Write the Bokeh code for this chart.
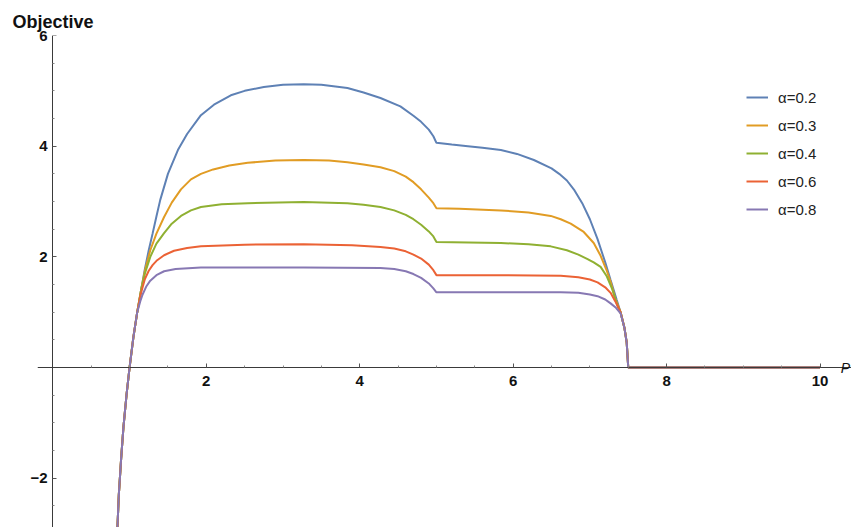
import numpy as np
from bokeh.plotting import figure
from bokeh.models import (Range1d, FixedTicker, Label, Legend, LegendItem,
                          CustomJSTickFormatter, LinearAxis)
from bokeh.embed import file_html
from bokeh.resources import INLINE

# ---------------- data ----------------
series_labels = ["α=0.2", "α=0.3", "α=0.4", "α=0.6", "α=0.8"]
colors = ["#5E81B5", "#E19C24", "#8FB032", "#EB6235", "#8778B3"]

x_a02 = [0.84, 0.86, 0.89, 0.92, 0.96, 1.0, 1.05, 1.1, 1.15, 1.2, 1.25, 1.3, 1.35, 1.4, 1.5,
         1.63, 1.75, 1.93, 2.1, 2.32, 2.5, 2.75, 3.0, 3.27, 3.5, 3.84, 4.05, 4.27, 4.53, 4.7,
         4.8, 4.9, 4.96, 5.0, 5.2, 5.41, 5.6, 5.84, 6.05, 6.27, 6.5, 6.6, 6.7, 6.8, 6.9, 7.0,
         7.1, 7.2, 7.27, 7.35, 7.4, 7.45, 7.48, 7.5, 10.0]
y_a02 = [-2.95, -2.3, -1.65, -1.08, -0.5, 0.0, 0.55, 1.0, 1.4, 1.78, 2.12, 2.42, 2.73, 3.03, 3.5,
         3.93, 4.22, 4.56, 4.75, 4.92, 5.0, 5.07, 5.11, 5.12, 5.11, 5.05, 4.97, 4.87, 4.72, 4.55,
         4.44, 4.3, 4.18, 4.06, 4.03, 4.0, 3.97, 3.93, 3.86, 3.75, 3.6, 3.5, 3.38, 3.2, 2.97, 2.68,
         2.32, 1.9, 1.58, 1.22, 1.0, 0.72, 0.45, 0.0, 0.0]

x_a03 = [0.84, 0.86, 0.89, 0.92, 0.96, 1.0, 1.05, 1.1, 1.15, 1.2, 1.27, 1.35, 1.45, 1.55, 1.67,
         1.8, 1.93, 2.09, 2.3, 2.54, 2.9, 3.27, 3.6, 3.84, 4.05, 4.27, 4.45, 4.6, 4.7, 4.8, 4.9,
         4.96, 5.0, 5.3, 5.84, 6.2, 6.49, 6.62, 6.75, 6.92, 7.05, 7.14, 7.22, 7.27, 7.33, 7.4,
         7.45, 7.48, 7.5, 10.0]
y_a03 = [-2.95, -2.3, -1.65, -1.08, -0.5, 0.0, 0.55, 1.0, 1.4, 1.75, 2.12, 2.42, 2.72, 2.98, 3.22,
         3.4, 3.5, 3.58, 3.65, 3.7, 3.74, 3.75, 3.74, 3.71, 3.67, 3.62, 3.55, 3.45, 3.35, 3.22, 3.07,
         2.97, 2.88, 2.87, 2.84, 2.8, 2.74, 2.68, 2.6, 2.45, 2.25, 2.02, 1.75, 1.55, 1.25, 1.0,
         0.72, 0.45, 0.0, 0.0]

x_a04 = [0.84, 0.86, 0.89, 0.92, 0.96, 1.0, 1.05, 1.1, 1.15, 1.2, 1.27, 1.35, 1.45, 1.55, 1.67,
         1.8, 1.93, 2.2, 2.54, 3.27, 3.84, 4.05, 4.27, 4.45, 4.6, 4.7, 4.8, 4.9, 4.96, 5.0, 5.84,
         6.2, 6.49, 6.7, 6.85, 6.97, 7.05, 7.14, 7.22, 7.29, 7.36, 7.4, 7.45, 7.48, 7.5, 10.0]
y_a04 = [-2.95, -2.3, -1.65, -1.08, -0.5, 0.0, 0.55, 1.0, 1.4, 1.7, 2.0, 2.24, 2.43, 2.6, 2.74,
         2.84, 2.9, 2.95, 2.97, 2.99, 2.97, 2.94, 2.9, 2.84, 2.76, 2.68, 2.58, 2.46, 2.37, 2.27, 2.25,
         2.23, 2.19, 2.12, 2.04, 1.96, 1.9, 1.82, 1.65, 1.42, 1.12, 1.0, 0.72, 0.45, 0.0, 0.0]

x_a06 = [0.84, 0.86, 0.89, 0.92, 0.96, 1.0, 1.05, 1.1, 1.14, 1.17, 1.2, 1.25, 1.3, 1.36, 1.45,
         1.58, 1.75, 1.93, 2.5, 3.27, 3.9, 4.27, 4.45, 4.6, 4.7, 4.8, 4.9, 4.96, 5.0, 5.84, 6.62,
         6.85, 7.0, 7.1, 7.2, 7.27, 7.33, 7.4, 7.45, 7.48, 7.5, 10.0]
y_a06 = [-2.95, -2.3, -1.65, -1.08, -0.5, 0.0, 0.55, 1.0, 1.3, 1.45, 1.6, 1.75, 1.85, 1.94, 2.03,
         2.11, 2.16, 2.19, 2.22, 2.23, 2.21, 2.18, 2.15, 2.1, 2.04, 1.97, 1.86, 1.76, 1.67, 1.67, 1.66,
         1.63, 1.59, 1.54, 1.45, 1.35, 1.2, 1.0, 0.72, 0.45, 0.0, 0.0]

x_a08 = [0.84, 0.86, 0.89, 0.92, 0.96, 1.0, 1.05, 1.1, 1.14, 1.17, 1.22, 1.27, 1.35, 1.45, 1.6,
         1.93, 3.27, 4.27, 4.45, 4.6, 4.7, 4.8, 4.9, 4.96, 5.0, 5.84, 6.62, 6.85, 7.0, 7.1, 7.2,
         7.27, 7.34, 7.4, 7.45, 7.48, 7.5, 10.0]
y_a08 = [-2.95, -2.3, -1.65, -1.08, -0.5, 0.0, 0.55, 1.0, 1.2, 1.32, 1.47, 1.57, 1.67, 1.74, 1.78,
         1.81, 1.81, 1.80, 1.78, 1.74, 1.69, 1.62, 1.52, 1.43, 1.36, 1.36, 1.36, 1.35, 1.32, 1.29,
         1.23, 1.16, 1.08, 0.98, 0.72, 0.45, 0.0, 0.0]

x_major_ticks = [2, 4, 6, 8, 10]
y_major_ticks = [-2, 2, 4, 6]
y_axis_title = "Objective"
x_axis_title = "P"

xs = [x_a02, x_a03, x_a04, x_a06, x_a08]
ys = [y_a02, y_a03, y_a04, y_a06, y_a08]

# ---------------- figure ----------------
p = figure(width=851, height=527, output_backend="svg", toolbar_location=None,
           x_range=Range1d(-0.2, 10.41), y_range=Range1d(-2.89, 6.0),
           title=y_axis_title)
p.min_border = 0
p.min_border_left = 37
p.min_border_right = 0
p.min_border_top = 35
p.min_border_bottom = 0
p.outline_line_color = None
p.xgrid.visible = False
p.ygrid.visible = False
p.background_fill_color = "white"
p.border_fill_color = "white"

p.title.align = "left"
p.title.offset = -25
p.title.standoff = 8
p.title.text_font = "Liberation Sans"
p.title.text_font_style = "bold"
p.title.text_font_size = "18px"
p.title.text_color = "#111111"

fmt = CustomJSTickFormatter(code="return tick < 0 ? '\u2212' + Math.abs(tick) : String(tick);")
blank = CustomJSTickFormatter(code="return '';")

xminor = [v for v in np.arange(0.5, 10.01, 0.5) if v not in x_major_ticks]
yminor = [v for v in np.arange(-3.0, 6.01, 0.5) if v not in y_major_ticks and v != 0]


def style_axis(ax):
    ax.axis_line_color = "#3a3a3a"
    ax.axis_line_width = 1
    ax.major_tick_line_color = "#555555"
    ax.minor_tick_line_color = "#888888"
    ax.major_tick_in = 4
    ax.major_tick_out = 0
    ax.minor_tick_in = 2
    ax.minor_tick_out = 0
    ax.major_label_text_font = "Liberation Sans"
    ax.major_label_text_font_style = "bold"
    ax.major_label_text_font_size = "15px"
    ax.major_label_text_color = "#111111"


# x axis: drawn through y = 0
xa = p.xaxis[0]
xa.fixed_location = 0
xa.ticker = FixedTicker(ticks=x_major_ticks, minor_ticks=xminor)
xa.formatter = fmt
style_axis(xa)
xa.major_label_standoff = 8

# y axis line + ticks: drawn through x = 0 (labels blank, they would be clipped)
ya = p.yaxis[0]
ya.fixed_location = 0
ya.ticker = FixedTicker(ticks=y_major_ticks, minor_ticks=yminor)
ya.formatter = blank
style_axis(ya)

# y tick labels: ordinary left axis, only its labels shown
yl = LinearAxis(ticker=FixedTicker(ticks=y_major_ticks), formatter=fmt)
style_axis(yl)
yl.axis_line_color = None
yl.major_tick_line_color = None
yl.minor_tick_line_color = None
yl.major_label_standoff = -10
p.add_layout(yl, "left")

items = []
for xv, yv, c, lab in zip(xs, ys, colors, series_labels):
    r = p.line(xv, yv, line_color=c, line_width=2)
    items.append(LegendItem(label=lab, renderers=[r]))

legend = Legend(items=items, location=(709, 308), glyph_width=22, glyph_height=20,
                spacing=8, padding=0, margin=0, label_standoff=10,
                background_fill_alpha=0, border_line_alpha=0,
                label_text_font="Liberation Sans", label_text_font_size="15px",
                label_text_color="#222222")
p.add_layout(legend)

p.add_layout(Label(x=10.27, y=0, text=x_axis_title, text_align="left", text_baseline="middle",
                   text_font="Liberation Sans", text_font_style="italic",
                   text_font_size="14px", text_color="#111111"))

open("out.html", "w", encoding="utf-8").write(file_html(p, INLINE))
